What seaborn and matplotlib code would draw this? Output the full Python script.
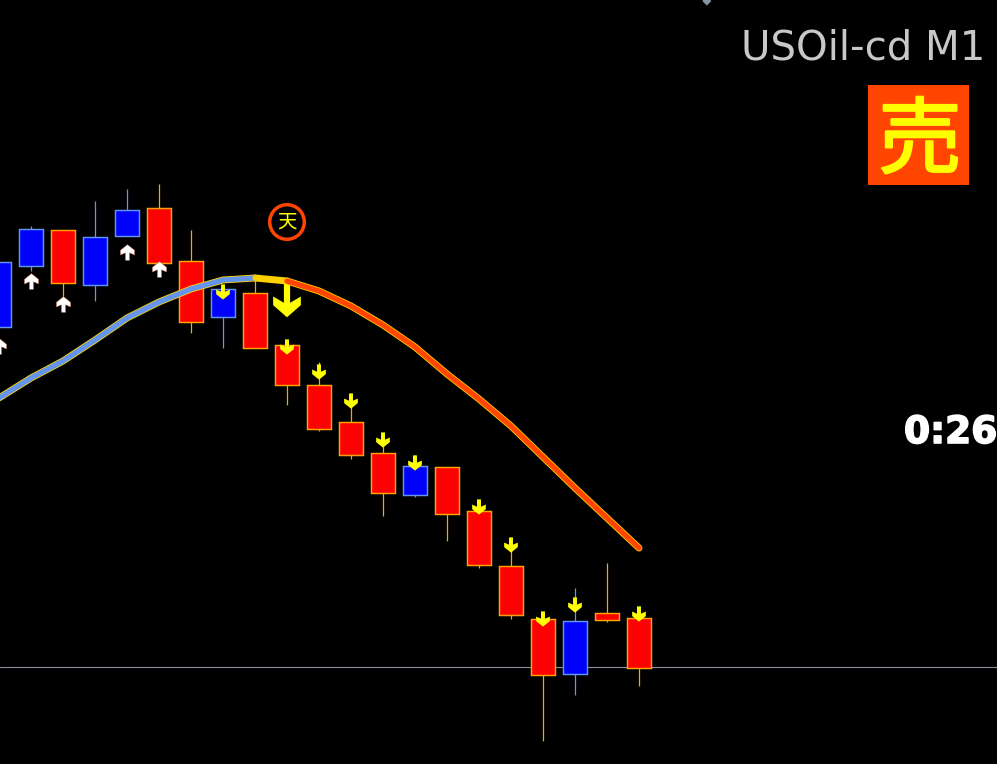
import matplotlib
matplotlib.use("Agg")
import matplotlib.patheffects as pe
import matplotlib.pyplot as plt
from matplotlib.patches import Rectangle
import numpy as np
import pandas as pd
import seaborn as sns

# Precos em pontos acima da linha horizontal (y=0), um candle a cada indice
candle_idx = list(range(21))
open_p = [340, 401, 437, 382, 431, 459, 406, 350, 374, 322, 282, 245, 214, 172, 200, 156, 101, 48, -7, 54, 49]
close_p = [405, 438, 384, 430, 457, 404, 345, 378, 319, 282, 238, 212, 174, 201, 153, 102, 52, -8, 46, 47, -1]
high_p = [405, 441, 437, 466, 478, 483, 437, 382, 387, 322, 305, 273, 233, 212, 200, 167, 129, 55, 79, 104, 60]
low_p = [340, 396, 370, 366, 431, 405, 334, 319, 319, 262, 236, 208, 151, 170, 126, 99, 48, -74, -28, 45, -19]

ma_idx = list(range(21))
ma_p = [269, 289, 306, 327, 349, 365, 378, 387, 389, 386, 376, 361, 342, 320, 293, 268, 241, 210, 179, 149, 119]

# Setas pequenas (indice do candle, centro em pontos)
seta_cima_idx = [0, 1, 2, 4, 5]
seta_cima_p = [321, 386, 363, 415, 398]
seta_baixo_idx = [7, 9, 10, 11, 12, 13, 15, 16, 17, 18, 20]
seta_baixo_p = [375, 320, 295, 266, 227, 204, 160, 122, 48, 62, 53]
seta_grande_idx = [9]
seta_grande_p = [367]

titulo = "USOil-cd M1"
sinal = "売"
topo = "天"
contador = "0:26"

LARGURA, ALTURA = 997, 764


def fx(px):
    return px / LARGURA


def fy(py):
    return 1 - py / ALTURA


sns.set_theme(style="dark", rc={"axes.facecolor": "black", "figure.facecolor": "black"})
fig = plt.figure(figsize=(9.97, 7.64), dpi=100)
ax = fig.add_axes([0, 0, 1, 1])
ax.set_xlim(1 / 32, 998 / 32)
ax.set_ylim(-97, 667)
ax.axis("off")

ax.axhline(0, color="#8a8f9c", lw=0.8, zorder=1)

abre = np.array(open_p)
fecha = np.array(close_p)
idx = np.array(candle_idx)
baixa = fecha < abre
for mask, cor, borda in [(baixa, "#ff0000", "#ffa500"), (~baixa, "#0000ff", "#6495ed")]:
    ax.vlines(idx[mask], np.array(low_p)[mask], np.array(high_p)[mask], color=borda, lw=0.9, zorder=2)
    ax.bar(
        idx[mask],
        np.abs(abre - fecha)[mask],
        bottom=np.minimum(abre, fecha)[mask],
        width=0.75,
        color=cor,
        edgecolor=borda,
        linewidth=1.05,
        zorder=3,
    )

# Formato das setas
seta_baixo = [(-0.13, 0.5), (0.13, 0.5), (0.13, 0.02), (0.45, 0.16), (0.45, -0.14), (0, -0.5), (-0.45, -0.14), (-0.45, 0.16), (-0.13, 0.02)]
seta_cima = [(x, -y) for x, y in seta_baixo]
seta_forte = [(-0.09, 0.5), (0.09, 0.5), (0.09, -0.08), (0.4, 0.1), (0.4, -0.15), (0, -0.5), (-0.4, -0.15), (-0.4, 0.1), (-0.09, -0.08)]

setas_cima = pd.DataFrame({"i": seta_cima_idx, "p": seta_cima_p})
sns.scatterplot(data=setas_cima, x="i", y="p", marker=seta_cima, s=130, color="white", edgecolor="#b06030", linewidth=0.3, zorder=4, ax=ax, legend=False)
setas_baixo = pd.DataFrame({"i": seta_baixo_idx, "p": seta_baixo_p})
sns.scatterplot(data=setas_baixo, x="i", y="p", marker=seta_baixo, s=120, color="#ffff00", edgecolor="none", zorder=4, ax=ax, legend=False)
setas_grandes = pd.DataFrame({"i": seta_grande_idx, "p": seta_grande_p})
sns.scatterplot(data=setas_grandes, x="i", y="p", marker=seta_forte, s=620, color="#ffff00", edgecolor="none", zorder=4, ax=ax, legend=False)

# Media movel em tres trechos
media = pd.DataFrame({"i": ma_idx, "p": ma_p})
trechos = [(media[media.i <= 8], "#6495ed"), (media[(media.i >= 8) & (media.i <= 9)], "#ffd000"), (media[media.i >= 9], "#ff4500")]
for trecho, cor in trechos:
    sns.lineplot(data=trecho, x="i", y="p", color="#ffd000", lw=5, solid_capstyle="round", zorder=5, ax=ax, legend=False, errorbar=None)
for trecho, cor in trechos:
    sns.lineplot(data=trecho, x="i", y="p", color=cor, lw=3.8, solid_capstyle="round", zorder=6, ax=ax, legend=False, errorbar=None)

# Marcador de topo
ax.scatter([9], [445], s=620, facecolor="none", edgecolor="#ff4500", linewidth=2.5, zorder=6)
ax.text(9, 445, topo, color="#ffff00", fontsize=14, ha="center", va="center", family=["Noto Sans CJK JP", "DejaVu Sans"], zorder=7)

# Textos e caixa do sinal
fig.text(fx(985), fy(59), titulo, color="#c8c8c8", fontsize=29, ha="right", va="baseline", family="DejaVu Sans")
fig.add_artist(Rectangle((fx(868), fy(185)), 101 / LARGURA, 100 / ALTURA, transform=fig.transFigure, facecolor="#ff4500", edgecolor="none"))
txt_sinal = fig.text(fx(920), fy(133), sinal, color="#ffff00", fontsize=60, ha="center", va="center_baseline", family=["Noto Sans CJK JP", "DejaVu Sans"])
txt_sinal.set_path_effects([pe.withStroke(linewidth=1.6, foreground="#ffff00")])
txt = fig.text(fx(904), fy(443), contador, color="white", fontsize=27, fontweight="bold", ha="left", va="baseline", family="DejaVu Sans")
txt.set_path_effects([pe.withStroke(linewidth=1.2, foreground="white")])
ax.scatter([22.12], [666], s=22, marker="D", color="#8a93a6", edgecolor="none", zorder=6)

fig.savefig("out.png", dpi=100, facecolor="black")
